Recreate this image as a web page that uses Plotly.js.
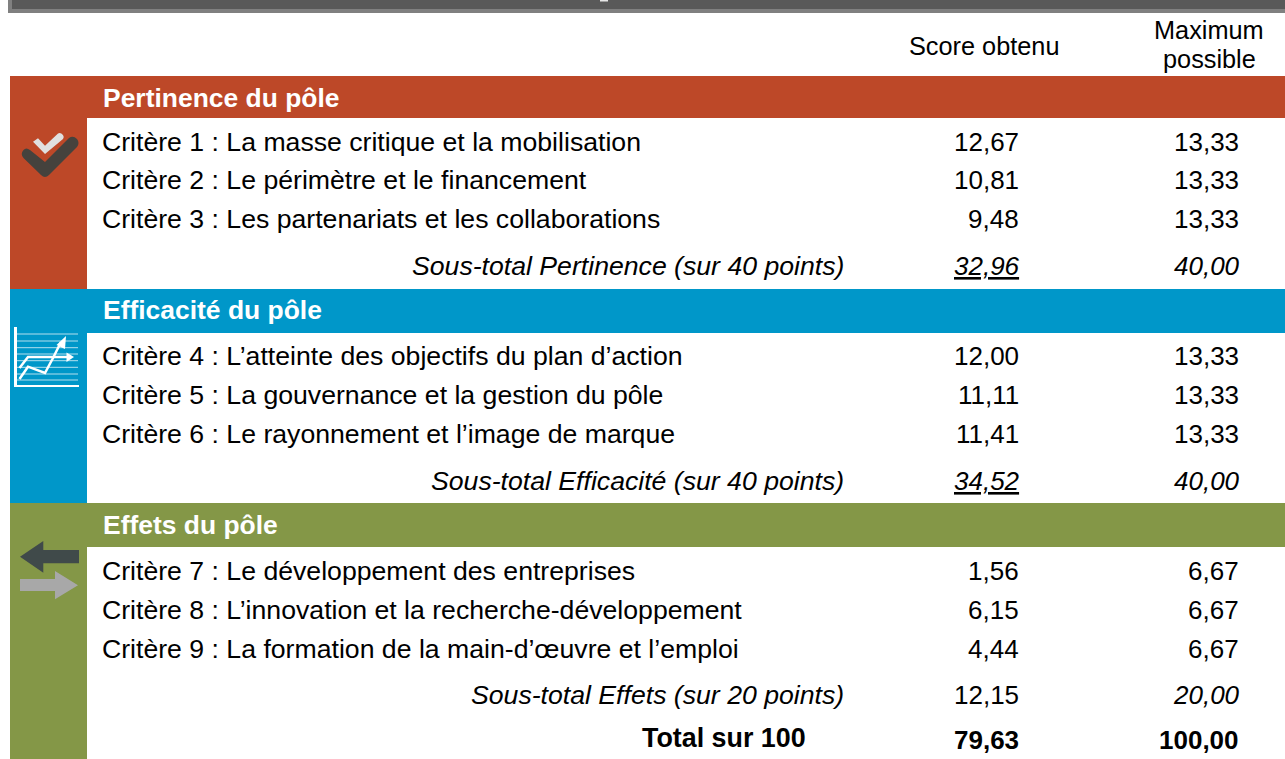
<!DOCTYPE html>
<html><head><meta charset="utf-8">
<script src="https://cdn.plot.ly/plotly-3.0.1.min.js"></script>
<style>html,body{margin:0;padding:0;background:#fff;overflow:hidden}#c{width:1285px;height:759px}</style>
</head><body><div id="c"></div>
<script>
const sections = ["Pertinence du pôle","Efficacité du pôle","Effets du pôle"];
const criteria = [
 "Critère 1 : La masse critique et la mobilisation",
 "Critère 2 : Le périmètre et le financement",
 "Critère 3 : Les partenariats et les collaborations",
 "Critère 4 : L’atteinte des objectifs du plan d’action",
 "Critère 5 : La gouvernance et la gestion du pôle",
 "Critère 6 : Le rayonnement et l’image de marque",
 "Critère 7 : Le développement des entreprises",
 "Critère 8 : L’innovation et la recherche-développement",
 "Critère 9 : La formation de la main-d’œuvre et l’emploi"];
const scores = ["12,67","10,81","9,48","12,00","11,11","11,41","1,56","6,15","4,44"];
const maxima = ["13,33","13,33","13,33","13,33","13,33","13,33","6,67","6,67","6,67"];
const subtotalLabels = ["Sous-total Pertinence (sur 40 points)","Sous-total Efficacité (sur 40 points)","Sous-total Effets (sur 20 points)"];
const subtotalScores = ["<i><u>32,96</u></i>","<i><u>34,52</u></i>","12,15"];
const subtotalMax = ["40,00","40,00","20,00"];
const totalLabel = "Total sur 100", totalScore = "79,63", totalMax = "100,00";
const headers = ["Score obtenu","Maximum","possible"];

const rowY = [142,180,219,356,395,434,571,610,649];
const subY = [266,481,695];
const headY = [98,310,525];
const colors = ["#BD4828","#0097C9","#849747"];
const FS = 26.65, NS = 26, HS = 25.3, F = "Liberation Sans, Arial, sans-serif";

const ann = [];
function t(x,y,text,anchor,o={}){
  ann.push({x,y,xref:'x',yref:'y',text,showarrow:false,xanchor:anchor,yanchor:'middle',borderpad:0,borderwidth:0,
    font:{family:F,size:o.size||FS,color:o.color||'#000'}});
}
t(984,46,headers[0],'center',{size:HS});
t(1209,30,headers[1],'center',{size:HS});
t(1209,59,headers[2],'center',{size:HS});
sections.forEach((s,i)=>t(102.5,headY[i],'<b>'+s+'</b>','left',{color:'#fff',size:26.45}));
criteria.forEach((c,i)=>{t(102,rowY[i],c,'left');t(1018.5,rowY[i],scores[i],'right',{size:NS});t(1238.5,rowY[i],maxima[i],'right',{size:NS});});
subtotalLabels.forEach((s,i)=>{t(844,subY[i],'<i>'+s+'</i>','right');t(i<2?1020:1018.5,subY[i],subtotalScores[i],'right',{size:NS});t(1239.5,subY[i],'<i>'+subtotalMax[i]+'</i>','right',{size:NS});});
t(806,738,'<b>'+totalLabel+'</b>','right',{size:26.85});
t(1018.5,740,'<b>'+totalScore+'</b>','right',{size:NS});
t(1238.5,740,'<b>'+totalMax+'</b>','right',{size:NS});

function rect(x0,y0,x1,y1,c){return {type:'rect',xref:'x',yref:'y',x0,y0,x1,y1,fillcolor:c,line:{width:0},layer:'below'};}
function path(d,c){return {type:'path',xref:'x',yref:'y',path:d,fillcolor:c,line:{width:0},layer:'above'};}
function stroke(d,c,w,op){return {type:'path',xref:'x',yref:'y',path:d,line:{color:c,width:w},opacity:op===undefined?1:op,layer:'above'};}
const shapes = [
 rect(8,0,1285,13,'#808080'), rect(12,0,1285,9,'#595959'), rect(600,0,608,1.5,'#e6e6e6'),
 rect(10,76,87,289,colors[0]), rect(87,76,1285,118,colors[0]),
 rect(10,289,87,503,colors[1]), rect(87,289,1285,333,colors[1]),
 rect(10,503,87,759,colors[2]), rect(87,503,1285,547,colors[2]),
 // check icon
 path('M23.5,150 Q26,147 30,150 L45,162 L69,138 Q73,135 77,139 Q80,143 77,147 L49,175 Q45,179 41,175 L23.5,158 Q20,154 23.5,150 Z','#45423D'),
 path('M33,141.7 L38,138.3 L45,145.7 L58,133.5 Q60.5,132 63,135 Q64.5,137 63,139 L45,154 Z','#E0E0E0'),
 // chart icon
 rect(14,327,17,387,'#fff'), rect(14,385,79,387,'#fff'),
 // exchange icon
 path('M20,556.7 L43.3,541 L43.3,550 L79,550 L79,563.3 L43.3,563.3 L43.3,572.7 Z','#404A4A'),
 path('M20,579 L55,579 L55,571 L78,585.3 L55,599.3 L55,591 L20,591 Z','#A8A8A8')
];
[334,341,347.7,354,360.7,367.3,374,380].forEach(y=>shapes.push(stroke(`M17,${y} L78,${y}`,'#fff',1,0.7)));
shapes.push(stroke('M19.5,379 L28,366.7 L45,373 L53,358 L61,342','#fff',2.5));
shapes.push(stroke('M19.5,368 L28,357 L67,357','#fff',2.5));
shapes.push(path('M66,336 L65,349 L56.5,345 Z','#fff'));
shapes.push(path('M74,357 L66.5,352.5 L66.5,362 Z','#fff'));

Plotly.newPlot('c',[{x:[],y:[],type:'scatter',mode:'markers',hoverinfo:'skip'}],{
  width:1285,height:759,margin:{l:0,r:0,t:0,b:0},paper_bgcolor:'#fff',plot_bgcolor:'#fff',showlegend:false,
  xaxis:{range:[0,1285],visible:false,fixedrange:true},
  yaxis:{range:[759,0],visible:false,fixedrange:true},
  shapes,annotations:ann
},{displayModeBar:false,staticPlot:true});
</script></body></html>
